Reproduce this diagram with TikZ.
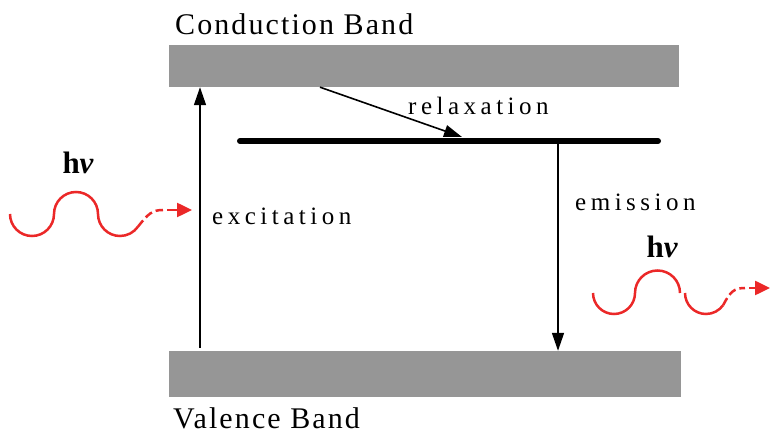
\documentclass[tikz,border=0pt]{standalone}
\usepackage{fontspec}
\setmainfont{Liberation Serif}
\newfontfamily\bandfont[LetterSpace=7]{Liberation Serif}
\newfontfamily\procfont[LetterSpace=18]{Liberation Serif}
\usetikzlibrary{arrows.meta}
\definecolor{bandgray}{RGB}{150,150,150}
\definecolor{photonred}{RGB}{235,40,40}
\tikzset{
  band/.style={fill=bandgray, draw=none, inner sep=0pt},
  bandlabel/.style={anchor=base west, inner sep=0pt, font=\bandfont\fontsize{30}{36}\selectfont},
  proclabel/.style={anchor=base west, inner sep=0pt, font=\procfont\fontsize{25}{30}\selectfont},
  photonlabel/.style={inner sep=0pt, font=\fontsize{31}{36}\selectfont\bfseries},
  transition/.style={line width=1.6pt, -{Triangle[length=18pt,width=12pt]}},
  level/.style={line width=6pt, line cap=round},
  wave/.style={draw=photonred, line width=2.5pt},
  wavetail/.style={draw=photonred, line width=2.5pt, dash pattern=on 8pt off 4pt},
  wavetip/.style={draw=photonred, line width=2.5pt, -{Triangle[length=15pt,width=14pt]}}
}
\begin{document}
\begin{tikzpicture}[x=1pt,y=1pt]
\useasboundingbox (0,0) rectangle (770,436);
% bands
\node[band, minimum width=510pt, minimum height=42pt] (cb) at (424,370) {};
\node[band, minimum width=512pt, minimum height=46pt] (vb) at (425,62) {};
\node[bandlabel] (cbl) at (175,401) {Conduction Band};
\node[bandlabel] (vbl) at (173,8) {Valence Band};
% defect level
\coordinate (lvL) at (240,295);
\coordinate (lvR) at (658,295);
\draw[level] (lvL) -- (lvR);
% excitation
\coordinate (exs) at (200,88);
\draw[transition] (exs) -- (exs |- cb.south);
\node[proclabel] (exl) at (212,211) {excitation};
% relaxation
\coordinate (rls) at (320,0);
\coordinate (rle) at (462,299);
\draw[transition] (rls |- cb.south) -- (rle);
\node[proclabel] (rll) at (408,321) {relaxation};
% emission
\coordinate (ems) at (558,295);
\draw[transition] (ems) -- (ems |- vb.north);
\node[proclabel] (eml) at (575,225) {emission};
% left photon
\node[photonlabel] (hv1) at (78,273) {h{\itshape ν}};
\coordinate (w1) at (10,222);
\draw[wave] (w1) arc[start angle=180, end angle=360, radius=22pt]
   arc[start angle=180, end angle=0, radius=22pt]
   arc[start angle=180, end angle=325, radius=22pt] coordinate (w1e);
\coordinate (a1) at (192,226);
\draw[wavetail] (w1e) .. controls (148,222) and (152,226) .. (163,226);
\draw[wavetip] (167,226) -- (a1);
% right photon
\node[photonlabel] (hv2) at (662,189) {h{\itshape ν}};
\coordinate (w2) at (593,143);
\draw[wave] (w2) arc[start angle=180, end angle=360, radius=21pt]
   arc[start angle=180, end angle=0, radius=22.5pt]
   ++(5,0) arc[start angle=180, end angle=325, radius=21pt] coordinate (w2e);
\coordinate (a2) at (770,148);
\draw[wavetail] (w2e) .. controls (730,144) and (734,148) .. (745,148);
\draw[wavetip] (749,148) -- (a2);
\end{tikzpicture}
\end{document}
